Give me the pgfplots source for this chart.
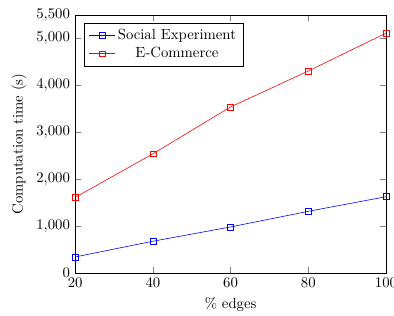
\documentclass[border=0pt]{standalone}
\usepackage{pgfplots}
\pgfplotsset{compat=1.18}
\begin{document}
\begin{tikzpicture}
\begin{axis}[
  scale only axis,
  width=211pt, height=175pt,
  xmin=20, xmax=100, ymin=0, ymax=5500,
  xtick={20,40,60,80,100},
  ytick={0,1000,2000,3000,4000,5000,5500},
  xlabel={\% edges},
  ylabel={Computation time (s)},
  legend pos=north west,
  legend cell align=center,
]
\addplot[blue, mark=square] coordinates {(20,340) (40,675) (60,980) (80,1313) (100,1625)};
\addlegendentry{Social Experiment}
\addplot[red, mark=square] coordinates {(20,1610) (40,2540) (60,3540) (80,4306) (100,5115)};
\addlegendentry{E-Commerce}
\end{axis}
\pgfresetboundingbox
\path[use as bounding box] (current axis.south west) ++(-51pt,-28.6pt) rectangle ([shift={(5.4pt,10.2pt)}]current axis.north east);
\end{tikzpicture}
\end{document}
